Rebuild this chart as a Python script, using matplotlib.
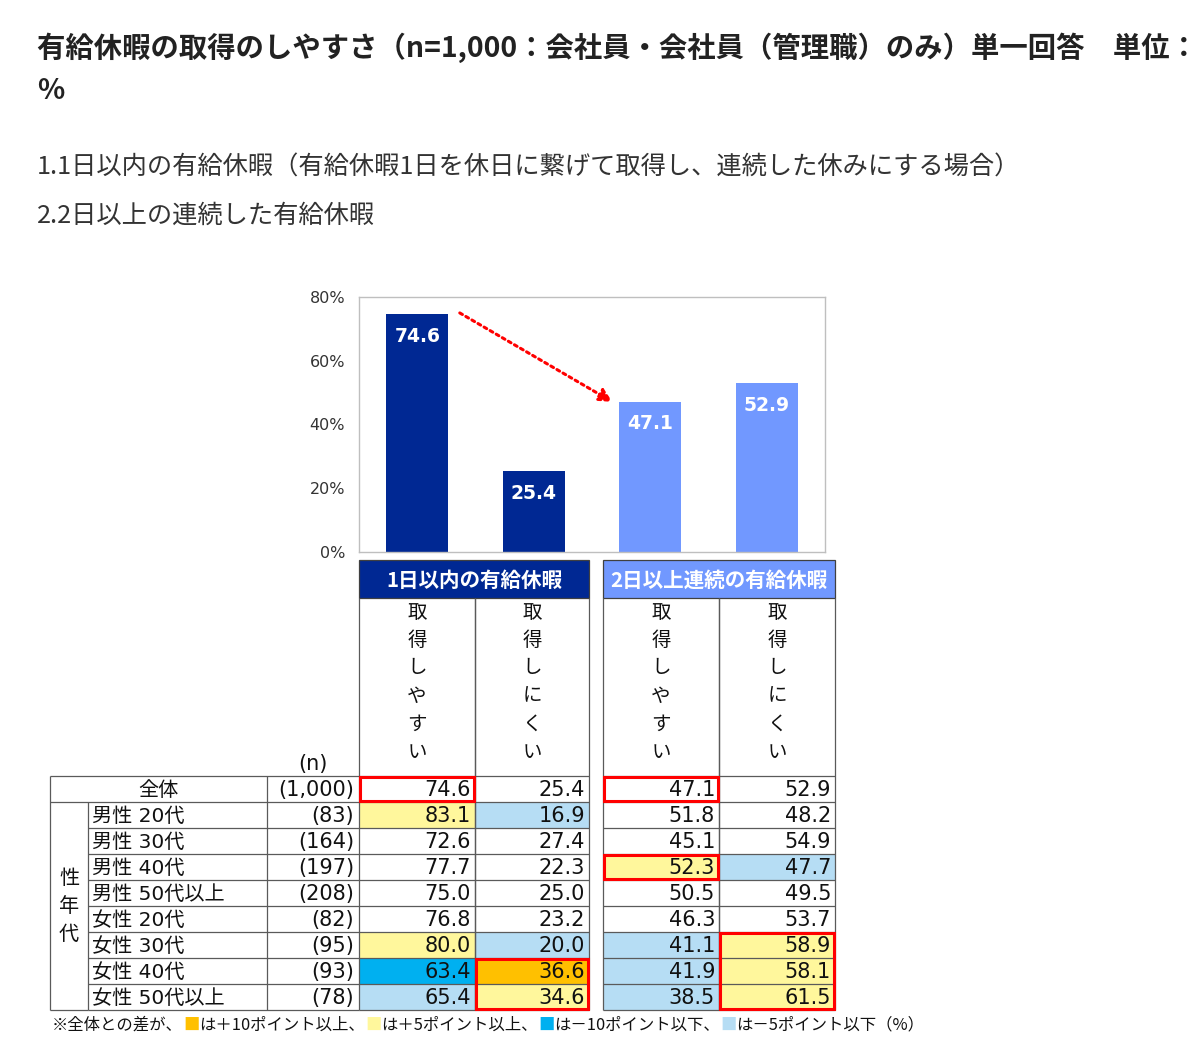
import matplotlib.pyplot as plt
from matplotlib.patches import Rectangle

plt.rcParams['font.family'] = ['Noto Sans CJK JP', 'DejaVu Sans']
NUM_FONT = ['DejaVu Sans', 'Noto Sans CJK JP']

title = '有給休暇の取得のしやすさ（n=1,000：会社員・会社員（管理職）のみ）単一回答　単位：'
subtitles = ['1.1日以内の有給休暇（有給休暇1日を休日に繋げて取得し、連続した休みにする場合）',
             '2.2日以上の連続した有給休暇']
groups = ['1日以内の有給休暇', '2日以上連続の有給休暇']
answers = ['取得しやすい', '取得しにくい', '取得しやすい', '取得しにくい']
yticks = [0, 20, 40, 60, 80]

row_labels = ['全体', '男性 20代', '男性 30代', '男性 40代', '男性 50代以上',
              '女性 20代', '女性 30代', '女性 40代', '女性 50代以上']
n_values = [1000, 83, 164, 197, 208, 82, 95, 93, 78]
easy_1day = [74.6, 83.1, 72.6, 77.7, 75.0, 76.8, 80.0, 63.4, 65.4]
hard_1day = [25.4, 16.9, 27.4, 22.3, 25.0, 23.2, 20.0, 36.6, 34.6]
easy_2day = [47.1, 51.8, 45.1, 52.3, 50.5, 46.3, 41.1, 41.9, 38.5]
hard_2day = [52.9, 48.2, 54.9, 47.7, 49.5, 53.7, 58.9, 58.1, 61.5]
# red boxes: (first row, last row, column)
highlights = [(0, 0, 0), (0, 0, 2), (3, 3, 2), (7, 8, 1), (6, 8, 3)]

columns = [easy_1day, hard_1day, easy_2day, hard_2day]
bar_values = [c[0] for c in columns]

navy = '#002893'
light = '#7198FF'
orange = '#FFC000'
yellow = '#FFF79C'
bright = '#00B0F0'
pale = '#B6DDF4'
grid = '#5A5A5A'
ink = '#111111'

W, H = 1200, 1054
fig = plt.figure(figsize=(W / 100, H / 100), dpi=100)
tx = fig.add_axes([0, 0, 1, 1])
tx.set_xlim(0, W)
tx.set_ylim(H, 0)
tx.axis('off')

# titles
tx.text(37, 48, title, fontsize=20.4, fontweight='bold', color='#222222', va='center')
tx.text(37, 91, '%', fontsize=20.4, fontweight='bold', color='#222222', va='center')
tx.text(37, 168, subtitles[0], fontsize=18.2, color='#333333', va='center')
tx.text(37, 216, subtitles[1], fontsize=18.2, color='#333333', va='center')

# bar chart
x0, x1, y0, y1 = 359, 825, 297, 552
ax = fig.add_axes([x0 / W, 1 - y1 / H, (x1 - x0) / W, (y1 - y0) / H])
xs = list(range(len(bar_values)))
bw = 0.53
ax.bar(xs, bar_values, width=bw, color=[navy, navy, light, light], zorder=2)
for x, v in zip(xs, bar_values):
    ax.annotate(f'{v:.1f}', (x, v), xytext=(0, -9), textcoords='offset points',
                ha='center', va='top', color='white', fontsize=13.5, fontweight='bold',
                family=NUM_FONT)
ax.set_xlim(-0.5, 3.5)
ax.set_ylim(0, 80)
ax.set_yticks(yticks)
ax.set_yticklabels([f'{t}%' for t in yticks], family=NUM_FONT)
ax.set_xticks([])
ax.tick_params(axis='y', length=0, pad=10, labelsize=11.5, labelcolor='#333333')
for s in ax.spines.values():
    s.set_color('#BFBFBF')
    s.set_linewidth(1)
ax.annotate('', xy=(2 - bw / 2 - 0.06, bar_values[2]),
            xytext=(bw / 2 + 0.1, bar_values[0] + 0.4),
            arrowprops=dict(arrowstyle='-|>,head_length=0.8,head_width=0.4',
                            color='red', lw=2.2, ls=(0, (1, 1.3)), shrinkA=0, shrinkB=0))

# table geometry
col_x = [(359, 475), (475, 589), (603, 719), (719, 835)]
group_x = [(359, 589), (603, 835)]
hdr_top, hdr_bot = 560, 598
row_top, row_h = 776, 26
nrows = len(row_labels)
tab_bot = row_top + row_h * nrows
lw = 0.9


def hline(y, xa, xb, c=grid):
    tx.plot([xa, xb], [y, y], color=c, lw=lw, solid_capstyle='butt')


def vline(x, ya, yb, c=grid):
    tx.plot([x, x], [ya, yb], color=c, lw=lw, solid_capstyle='butt')


# cell fills from difference vs 全体
for j, col in enumerate(columns):
    base = col[0]
    for i in range(1, nrows):
        d = round(col[i] - base, 1)
        fc = None
        if d >= 10:
            fc = orange
        elif d >= 5:
            fc = yellow
        elif d <= -10:
            fc = bright
        elif d <= -5:
            fc = pale
        if fc:
            xa, xb = col_x[j]
            tx.add_patch(Rectangle((xa, row_top + i * row_h), xb - xa, row_h,
                                   facecolor=fc, edgecolor='none', zorder=1))

# group headers
for (xa, xb), g, fc in zip(group_x, groups, [navy, light]):
    tx.add_patch(Rectangle((xa, hdr_top), xb - xa, hdr_bot - hdr_top,
                           facecolor=fc, edgecolor='#404040', lw=lw, zorder=2))
    tx.text((xa + xb) / 2, (hdr_top + hdr_bot) / 2 + 1, g, color='white',
            fontsize=14.8, fontweight='bold', ha='center', va='center', zorder=3)

# grid lines
for xa, xb in group_x:
    for i in range(nrows + 1):
        hline(row_top + i * row_h, xa, xb)
for xa, xb in col_x:
    vline(xa, hdr_bot, tab_bot)
    vline(xb, hdr_bot, tab_bot)
hline(row_top, 50, 359)
hline(row_top + row_h, 50, 359)
for i in range(2, nrows + 1):
    hline(row_top + i * row_h, 88, 359)
hline(tab_bot, 50, 88)
vline(50, row_top, tab_bot)
vline(88, row_top + row_h, tab_bot)
vline(267, row_top, tab_bot)

# red highlight boxes
for r0, r1, j in highlights:
    xa, xb = col_x[j]
    tx.add_patch(Rectangle((xa + 1, row_top + r0 * row_h + 1), xb - xa - 2,
                           (r1 - r0 + 1) * row_h - 2, facecolor='none',
                           edgecolor='#FF0000', lw=2.2, zorder=5))

# vertical header text
for (xa, xb), ans in zip(col_x, answers):
    for k, ch in enumerate(ans):
        tx.text((xa + xb) / 2, 612 + 28 * k, ch, fontsize=14, color=ink,
                ha='center', va='center')
tx.text(313, 764, '(n)', fontsize=15, color=ink, ha='center', va='center',
        family=NUM_FONT)
for k, ch in enumerate('性年代'):
    tx.text(69, row_top + row_h + (nrows - 1) * row_h / 2 + (k - 1) * 28, ch,
            fontsize=14.5, color=ink, ha='center', va='center')

# rows
for i, (lab, n) in enumerate(zip(row_labels, n_values)):
    yc = row_top + i * row_h + row_h / 2 + 1
    if i == 0:
        tx.text(158, yc, lab, fontsize=14.5, color=ink, ha='center', va='center')
    else:
        tx.text(92, yc, lab, fontsize=14.5, color=ink, ha='left', va='center',
                family=NUM_FONT)
    tx.text(354, yc, f'({n:,})', fontsize=15, color=ink, ha='right',
            va='center', family=NUM_FONT)
    for j, col in enumerate(columns):
        tx.text(col_x[j][1] - 4, yc, f'{col[i]:.1f}', fontsize=15, color=ink,
                ha='right', va='center', family=NUM_FONT, zorder=6)

# footnote with coloured squares
pieces = [('※全体との差が、', ink), ('■', orange), ('は＋10ポイント以上、', ink),
          ('■', yellow), ('は＋5ポイント以上、', ink), ('■', bright),
          ('は－10ポイント以下、', ink), ('■', pale), ('は－5ポイント以下（%）', ink)]
prev = tx.text(52, 1025, pieces[0][0], fontsize=11.8, color=pieces[0][1], va='center')
for s, c in pieces[1:]:
    prev = tx.annotate(s, xy=(1, 0), xycoords=prev, ha='left', va='bottom',
                       fontsize=11.8, color=c)

fig.savefig('out.png', dpi=100)
